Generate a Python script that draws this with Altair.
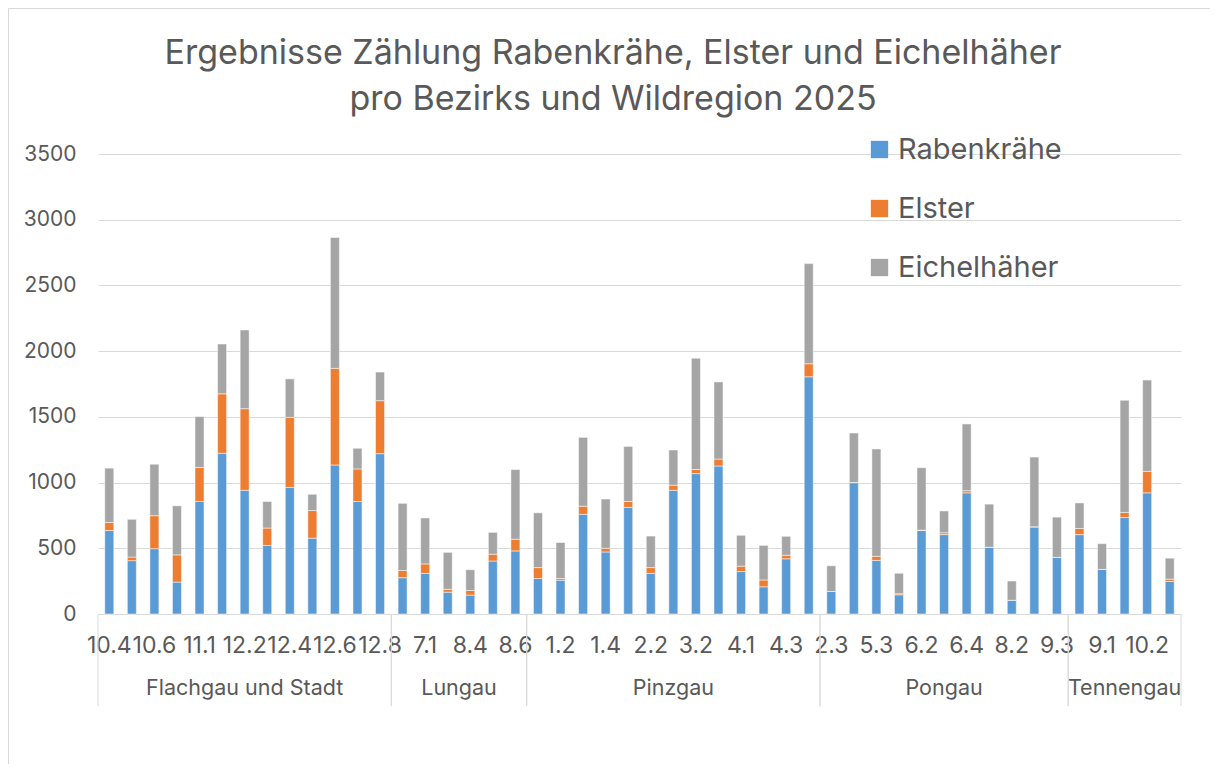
import altair as alt
import pandas as pd

# ---- data -----------------------------------------------------------------
gruppen = ["Flachgau und Stadt", "Lungau", "Pinzgau", "Pongau", "Tennengau"]
gruppen_anzahl = [13, 6, 13, 11, 5]
kategorien = [
    "10.4", "10.5", "10.6", "10.7", "11.1", "12.1", "12.2", "12.3", "12.4", "12.5", "12.6", "12.7", "12.8",
    "6.7", "7.1", "8.3", "8.4", "8.5", "8.6",
    "1.1", "1.2", "1.3", "1.4", "2.1", "2.2", "3.1", "3.2", "3.3", "4.1", "4.2", "4.3", "4.4",
    "2.3", "5.2", "5.3", "6.1", "6.2", "6.3", "6.4", "8.1", "8.2", "9.2", "9.3",
    "5.1", "9.1", "10.1", "10.2", "10.3",
]
rabenkraehe = [
    635, 406, 497, 243, 856, 1223, 941, 522, 963, 577, 1134, 856, 1220,
    276, 309, 166, 144, 403, 480,
    270, 257, 759, 472, 811, 309, 941, 1068, 1126, 323, 207, 420, 1805,
    171, 999, 408, 146, 635, 604, 922, 508, 105, 662, 431,
    604, 339, 734, 922, 248,
]
elster = [
    61, 27, 251, 207, 259, 452, 621, 132, 533, 210, 735, 248, 403,
    55, 72, 22, 35, 52, 89,
    83, 13, 61, 28, 45, 44, 39, 31, 53, 41, 52, 27, 99,
    0, 2, 31, 8, 3, 14, 16, 0, 0, 2, 0,
    47, 0, 39, 163, 17,
]
eichelhaeher = [
    414, 287, 392, 373, 387, 379, 599, 202, 293, 124, 996, 157, 218,
    511, 350, 281, 158, 166, 530,
    417, 274, 524, 375, 419, 240, 268, 847, 587, 235, 263, 144, 762,
    196, 376, 817, 156, 475, 166, 508, 328, 146, 530, 306,
    194, 196, 853, 695, 160,
]
arten = ["Rabenkrähe", "Elster", "Eichelhäher"]
farben = ["#5B9BD5", "#ED7D31", "#A5A5A5"]
titel = ["Ergebnisse Zählung Rabenkrähe, Elster und Eichelhäher",
         "pro Bezirks und Wildregion 2025"]

# ---- table ----------------------------------------------------------------
gruppe_je_kat = [g for g, n in zip(gruppen, gruppen_anzahl) for _ in range(n)]
rows = []
for i, (k, g) in enumerate(zip(kategorien, gruppe_je_kat)):
    for o, (art, serie) in enumerate(zip(arten, [rabenkraehe, elster, eichelhaeher])):
        rows.append(dict(idx=i, kat=k, gruppe=g, art=art, wert=serie[i], ord=o))
df = pd.DataFrame(rows)

W, H = 1083, 460
FONT = "Inter"
TXT = "#595959"
GRID = "#D9D9D9"
n = len(kategorien)
xscale = alt.Scale(domain=[-0.5, n - 0.5], nice=False, zero=False)

base = alt.Chart(df)

bars = (
    base.transform_stack(
        stack="wert", groupby=["idx"], as_=["y0", "y1"],
        sort=[alt.SortField(field="ord", order="ascending")],
    )
    .transform_calculate(xa="datum.idx - 0.2", xb="datum.idx + 0.2")
    .mark_bar(stroke="white", strokeWidth=0.5)
    .encode(
        x=alt.X("xa:Q", scale=xscale, axis=None),
        x2="xb:Q",
        y=alt.Y("y0:Q", scale=alt.Scale(domain=[0, 3500], nice=False), title=None,
                axis=alt.Axis(values=list(range(0, 3501, 500)), labelPadding=22,
                              grid=True, format="d")),
        y2="y1:Q",
        color=alt.Color("art:N", scale=alt.Scale(domain=arten, range=farben),
                        legend=alt.Legend(orient="none", legendX=767, legendY=-19,
                                          direction="vertical", title=None,
                                          symbolType="square", symbolSize=300,
                                          symbolStrokeWidth=0, symbolOpacity=1,
                                          labelFont=FONT, labelFontSize=29,
                                          labelColor=TXT, labelOffset=4,
                                          labelLimit=0,
                                          rowPadding=29, padding=0)),
    )
)

# category labels (every second one, as in the reference)
kat_text = (
    base.transform_filter("datum.ord == 0 && datum.idx % 2 == 0")
    .mark_text(font=FONT, fontSize=23, color=TXT, baseline="alphabetic")
    .encode(x=alt.X("idx:Q", scale=xscale, axis=None), y=alt.value(H + 39), text="kat:N")
)

grp = base.transform_aggregate(
    mid="mean(idx)", lo="min(idx)", hi="max(idx)", groupby=["gruppe"]
)
grp_text = grp.mark_text(font=FONT, fontSize=21.5, color=TXT, baseline="alphabetic").encode(
    x=alt.X("mid:Q", scale=xscale, axis=None),
    y=alt.value(H + 81),
    text="gruppe:N",
)
grp_rules = (
    grp.transform_calculate(b1="datum.lo - 0.5", b2="datum.hi + 0.5")
    .transform_fold(["b1", "b2"], as_=["k", "b"])
    .mark_rule(color=GRID, strokeWidth=1)
    .encode(x=alt.X("b:Q", scale=xscale, axis=None), y=alt.value(H), y2=alt.value(H + 92))
)

titel_df = pd.DataFrame({"zeile": titel, "nr": list(range(len(titel)))})
titel_text = (
    alt.Chart(titel_df)
    .transform_calculate(ty="-90 + 46 * datum.nr")
    .mark_text(font=FONT, fontSize=34, color=TXT, baseline="alphabetic", align="center")
    .encode(
        x=alt.value(515),
        y=alt.Y("ty:Q", scale=None, axis=None),
        text="zeile:N",
    )
)

rahmen_df = pd.DataFrame({"r": [0]})
rahmen_links = alt.Chart(rahmen_df).mark_rule(color=GRID, strokeWidth=1).encode(
    x=alt.value(-89.5), y=alt.value(-145.5), y2=alt.value(H + 200)
)
rahmen_oben = alt.Chart(rahmen_df).mark_rule(color=GRID, strokeWidth=1).encode(
    x=alt.value(-89.5), x2=alt.value(W + 40), y=alt.value(-145.5)
)

chart = (
    alt.layer(rahmen_links, rahmen_oben, bars, kat_text, grp_rules, grp_text, titel_text)
    .resolve_scale(y="independent")
    .properties(
        width=W, height=H,
        autosize=alt.AutoSizeParams(type="none"),
        padding={"left": 90, "top": 146, "right": 29, "bottom": 150},
    )
    .configure_view(stroke=None)
    .configure_axis(labelFont=FONT, labelFontSize=21, labelColor=TXT,
                    gridColor=GRID, gridWidth=1, domain=False, ticks=False, tickSize=0)
)

chart.save("out.html", embed_options={"renderer": "svg", "actions": False})
